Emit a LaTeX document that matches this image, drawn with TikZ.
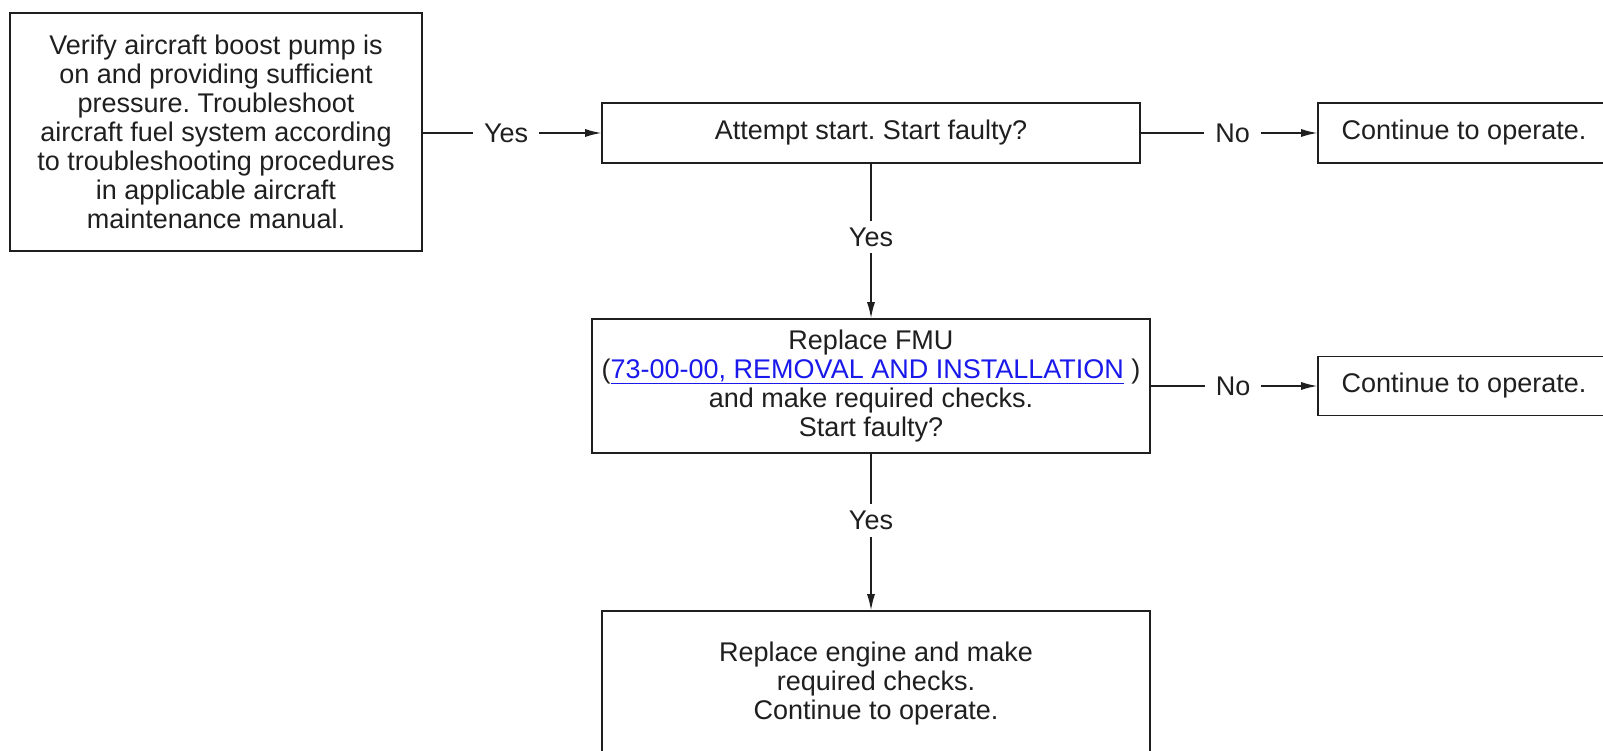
\documentclass[tikz,border=0pt]{standalone}
\usepackage{fontspec}
\setmainfont{Liberation Sans}
\usetikzlibrary{arrows.meta}
\definecolor{ink}{gray}{0.12}
\definecolor{linkblue}{RGB}{25,25,235}
\newcommand{\reflink}[1]{\textcolor{linkblue}{\underline{#1}}}
\frenchspacing

\begin{document}
\begin{tikzpicture}[x=1pt,y=-1pt,
  every node/.style={font=\fontsize{27}{29}\selectfont, text=ink},
  stepbox/.style={draw=ink, line width=1.6pt, fill=white, rectangle,
    align=center, inner sep=0pt},
  flow/.style={draw=ink, line width=1.3pt, -{Latex[length=16pt,width=8pt]}},
  hlabel/.style={fill=white, inner xsep=11pt, inner ysep=2pt},
  vlabel/.style={fill=white, inner xsep=2pt, inner ysep=7pt}]
\useasboundingbox (0,0) rectangle (1603,751);

% process steps
\node[stepbox, minimum width=412pt, minimum height=238pt] (verify) at (216,132)
  {Verify aircraft boost pump is\\ on and providing sufficient\\ pressure. Troubleshoot\\
   aircraft fuel system according\\ to troubleshooting procedures\\ in applicable aircraft\\
   maintenance manual.};
\node[stepbox, minimum width=538pt, minimum height=60pt] (attempt) at (871,133)
  {Attempt start. Start faulty?};
\node[stepbox, minimum width=292pt, minimum height=60pt] (cont1) at (1464,133)
  {Continue to operate.};
\node[stepbox, minimum width=558pt, minimum height=134pt] (fmu) at (871,386)
  {Replace FMU\\ (\reflink{73-00-00, REMOVAL AND INSTALLATION} )\\
   and make required checks.\\ Start faulty?};
\node[stepbox, minimum width=292pt, minimum height=59pt] (cont2) at (1464,386)
  {Continue to operate.};
\node[stepbox, minimum width=548pt, minimum height=145pt] (engine) at (876,683.5)
  {Replace engine and make\\ required checks.\\ Continue to operate.};

% connectors
\draw[flow] (verify.east |- attempt.west) -- node[hlabel, pos=0.467] {Yes} (attempt.west);
\draw[flow] (attempt.east) -- node[hlabel, pos=0.52] {No} (cont1.west);
\draw[flow] (attempt.south) -- node[vlabel, pos=0.474] {Yes} (fmu.north);
\draw[flow] (fmu.east) -- node[hlabel, pos=0.494] {No} (cont2.west);
\draw[flow] (fmu.south) -- node[vlabel, pos=0.424] {Yes} (fmu.south |- engine.north);
\end{tikzpicture}
\end{document}
